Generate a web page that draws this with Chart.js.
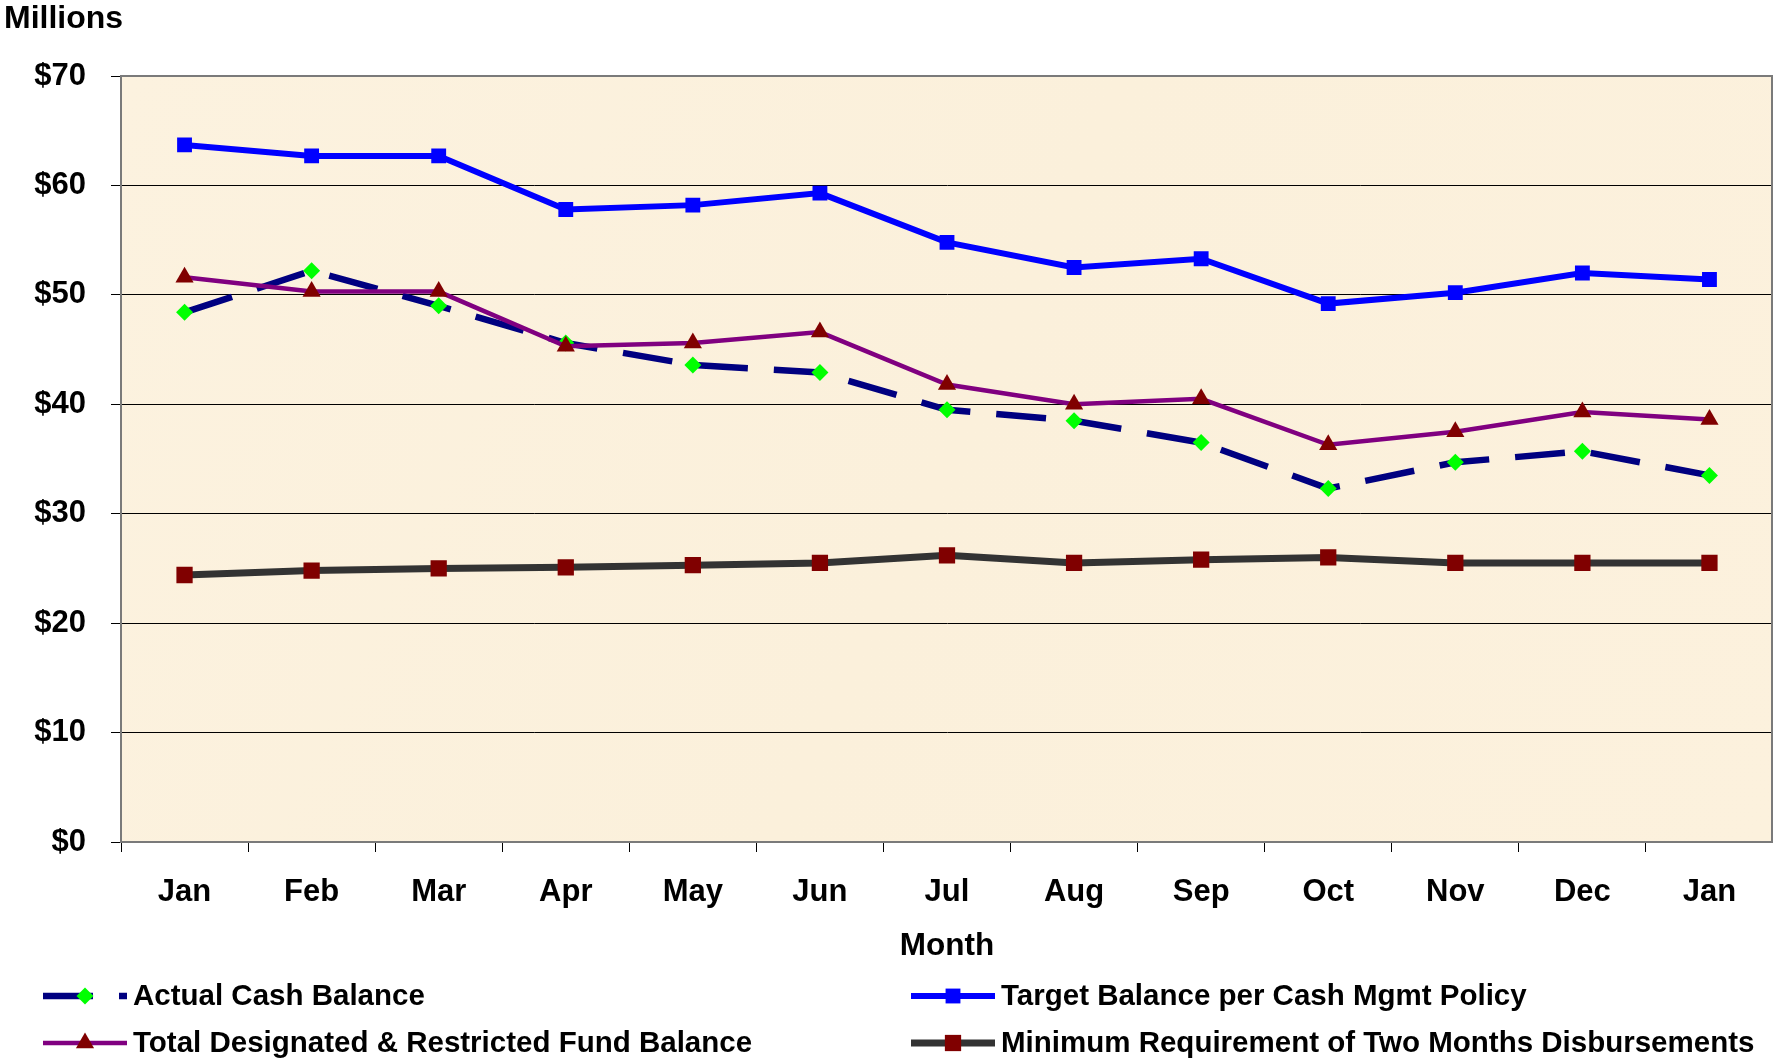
<!DOCTYPE html>
<html>
<head>
<meta charset="utf-8">
<script src="https://cdn.jsdelivr.net/npm/chart.js@4.4.1/dist/chart.umd.min.js"></script>
<style>
  html, body { margin: 0; padding: 0; background: #ffffff; }
  #wrap { width: 1773px; height: 1060px; position: relative; }
</style>
</head>
<body>
<div id="wrap"><canvas id="c" width="1773" height="1060"></canvas></div>
<script>
const months = ['Jan','Feb','Mar','Apr','May','Jun','Jul','Aug','Sep','Oct','Nov','Dec','Jan'];
const actualCash = [48.4, 52.2, 49.0, 45.6, 43.6, 42.9, 39.5, 38.5, 36.5, 32.3, 34.7, 35.7, 33.5];
const targetBalance = [63.7, 62.7, 62.7, 57.8, 58.2, 59.3, 54.8, 52.5, 53.3, 49.2, 50.2, 52.0, 51.4];
const designatedRestricted = [51.6, 50.3, 50.3, 45.3, 45.6, 46.6, 41.8, 40.0, 40.5, 36.3, 37.5, 39.3, 38.6];
const minimumRequirement = [24.4, 24.8, 25.0, 25.1, 25.3, 25.5, 26.2, 25.5, 25.8, 26.0, 25.5, 25.5, 25.5];
const yTicks = [0, 10, 20, 30, 40, 50, 60, 70];
const seriesNames = ['Actual Cash Balance', 'Target Balance per Cash Mgmt Policy',
  'Total Designated & Restricted Fund Balance', 'Minimum Requirement of Two Months Disbursements'];

const FONT = '"Liberation Sans", Arial, sans-serif';

const bgPlugin = {
  id: 'bgPlugin',
  beforeDraw(chart) {
    const {ctx, chartArea: a} = chart;
    ctx.save();
    const g = ctx.createLinearGradient(a.left, a.top, a.right, a.bottom);
    g.addColorStop(0, '#FCF2DF');
    g.addColorStop(0.5, '#FBF0DB');
    g.addColorStop(1, '#FCF1DD');
    ctx.fillStyle = g;
    ctx.fillRect(a.left, a.top, a.right - a.left, a.bottom - a.top);
    ctx.restore();
  },
  afterDraw(chart) {
    const {ctx, chartArea: a} = chart;
    ctx.save();
    ctx.strokeStyle = '#7a7a7a';
    ctx.lineWidth = 2;
    ctx.strokeRect(a.left, a.top, a.right - a.left - 1, a.bottom - a.top);
    // "Millions" label
    ctx.fillStyle = '#000';
    ctx.font = 'bold 32px ' + FONT;
    ctx.textAlign = 'left';
    ctx.textBaseline = 'middle';
    ctx.fillText('Millions', 4, 19);
    // custom two-column legend
    const ds = chart.data.datasets;
    const cols = [43, 911];
    const rows = [996, 1043];
    const pos = [[0,0],[1,0],[0,1],[1,1]];
    ctx.font = 'bold 29.5px ' + FONT;
    ds.forEach((d, i) => {
      const x0 = cols[pos[i][0]];
      const y = rows[pos[i][1]];
      ctx.save();
      ctx.strokeStyle = d.borderColor;
      ctx.lineWidth = d.borderWidth;
      ctx.setLineDash(d.borderDash || []);
      ctx.beginPath();
      ctx.moveTo(x0, y);
      ctx.lineTo(x0 + 84, y);
      ctx.stroke();
      ctx.restore();
      ctx.save();
      ctx.fillStyle = d.pointBackgroundColor;
      ctx.strokeStyle = d.pointBorderColor;
      ctx.lineWidth = 0.01;
      Chart.helpers.drawPoint(ctx, {pointStyle: d.pointStyle, radius: d.pointRadius, borderWidth: 0, rotation: 0}, x0 + 42, y);
      ctx.restore();
      ctx.fillStyle = '#000';
      ctx.textBaseline = 'middle';
      ctx.fillText(seriesNames[i], x0 + 90, y + 1);
    });
    ctx.restore();
  }
};

new Chart(document.getElementById('c'), {
  type: 'line',
  data: {
    labels: months,
    datasets: [
      { label: seriesNames[0], data: actualCash, borderColor: '#000080', borderWidth: 6.5,
        borderDash: [50, 26], pointStyle: 'rectRot', pointRadius: 8.5,
        pointBackgroundColor: '#00FF00', pointBorderColor: '#00FF00', pointBorderWidth: 0, order: 1 },
      { label: seriesNames[1], data: targetBalance, borderColor: '#0000FF', borderWidth: 6,
        pointStyle: 'rect', pointRadius: 10.5,
        pointBackgroundColor: '#0000FF', pointBorderColor: '#0000FF', pointBorderWidth: 0, order: 2 },
      { label: seriesNames[2], data: designatedRestricted, borderColor: '#800080', borderWidth: 4.5,
        pointStyle: 'triangle', pointRadius: 10.5,
        pointBackgroundColor: '#800000', pointBorderColor: '#800000', pointBorderWidth: 0, order: 0 },
      { label: seriesNames[3], data: minimumRequirement, borderColor: '#333333', borderWidth: 7,
        pointStyle: 'rect', pointRadius: 11.5,
        pointBackgroundColor: '#800000', pointBorderColor: '#800000', pointBorderWidth: 0, order: 3 }
    ]
  },
  options: {
    responsive: false,
    animation: false,
    devicePixelRatio: 1,
    layout: { autoPadding: false, padding: { top: 76, left: 0, right: 0, bottom: 91 } },
    elements: { line: { tension: 0 } },
    plugins: { legend: { display: false }, tooltip: { enabled: false }, title: { display: false } },
    scales: {
      x: {
        type: 'category',
        offset: true,
        afterFit(s) { s.height = 127; s.paddingRight = 0; s.paddingLeft = 0; },
        grid: { offset: true, drawOnChartArea: false, drawTicks: true, tickLength: 10, color: '#000', lineWidth: 1 },
        border: { display: true, color: '#7a7a7a', width: 2 },
        ticks: { color: '#000', font: { family: FONT, size: 31, weight: 'bold' }, padding: 22, maxRotation: 0, autoSkip: false },
        title: { display: true, text: 'Month', color: '#000', font: { family: FONT, size: 31.5, weight: 'bold' }, padding: { top: 18, bottom: 4 } }
      },
      y: {
        min: 0, max: 70,
        afterFit(s) { s.width = 121; },
        afterBuildTicks(s) { s.ticks = yTicks.map(v => ({ value: v })); },
        grid: {
          color: ctx => (ctx.tick && (ctx.tick.value === 0 || ctx.tick.value === 70)) ? 'rgba(0,0,0,0)' : '#000',
          tickColor: '#000', lineWidth: 1, tickLength: 10, drawTicks: true
        },
        border: { display: true, color: '#7a7a7a', width: 2 },
        ticks: { color: '#000', font: { family: FONT, size: 31, weight: 'bold' }, padding: 25,
          callback: v => '$' + v }
      }
    }
  },
  plugins: [bgPlugin]
});
</script>
</body>
</html>
